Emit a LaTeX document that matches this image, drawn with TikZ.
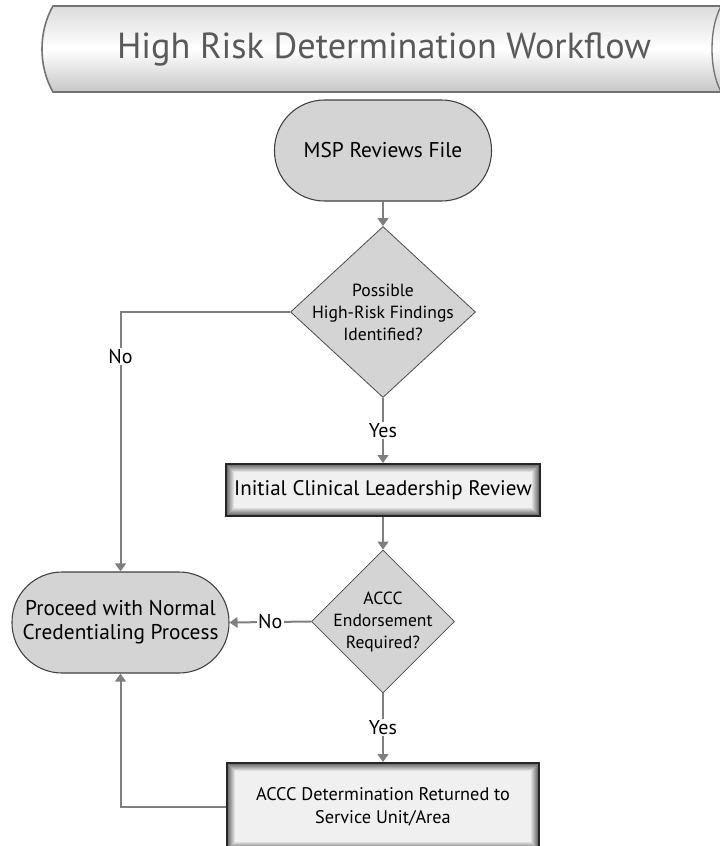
\documentclass[tikz,border=0pt]{standalone}
\usepackage{fontspec}
\setmainfont{PT Sans}
\usetikzlibrary{arrows.meta,shapes.geometric}
\definecolor{conn}{HTML}{7F7F7F}
\definecolor{nodefill}{HTML}{D4D4D4}
\definecolor{titlegray}{HTML}{5A5A5A}
\tikzset{
  conn/.style={draw=conn,line width=1.5pt},
  arr/.style={conn,-{Triangle[length=6pt,width=8pt]}},
  stadium/.style={draw=black!75,line width=0.8pt,fill=nodefill,rounded corners=37.5pt,
    minimum width=162.75pt,minimum height=75.75pt,inner sep=0pt,align=center,font=\fontsize{16}{18}\selectfont},
  decision/.style={diamond,draw=black!70,line width=0.6pt,fill=nodefill,inner sep=0pt},
  dtext/.style={align=center,font=\fontsize{13.2}{16.5}\selectfont},
  glowbox/.style={draw=black!85,line width=1.4pt,inner sep=0pt,align=center,
    path picture={
      \foreach \i [evaluate=\i as \c using 62-7*\i] in {0,...,8}{
        \fill[black!\c!white] ([shift={(\i*0.75pt,-\i*0.75pt)}]path picture bounding box.north west)
          rectangle ([shift={(-\i*0.75pt,\i*0.75pt)}]path picture bounding box.south east);}
    }},
  lbl/.style={fill=white,inner sep=1pt,font=\fontsize{15}{17}\selectfont}
}
\begin{document}
\begin{tikzpicture}[x=0.75pt,y=-0.75pt]
\clip (0,0) rectangle (720,846);
\fill[white] (0,0) rectangle (720,846);
% title banner
\path[draw=black!55,line width=1.2pt,top color=black!14,bottom color=black!22,middle color=white]
  (53,6) .. controls (45,20) and (42,35) .. (42,49) .. controls (42,63) and (45,78) .. (53,92)
  -- (730,92) -- (730,6) -- cycle;
\draw[black!55,line width=1pt] (721,6) .. controls (714,20) and (712,35) .. (712,49)
  .. controls (712,63) and (714,78) .. (721,92);
\node[text=titlegray,font=\fontsize{27.2}{30}\selectfont] (title) at (384,49) {High Risk Determination Workflow};
% nodes
\node[stadium] (msp) at (383,150.5) {MSP Reviews File};
\node[decision,minimum width=138.75pt,minimum height=128.25pt] (d1) at (383,312) {};
\node[dtext] (d1t) at (383,312) {Possible\\High-Risk Findings\\Identified?};
\node[glowbox,minimum width=235.5pt,minimum height=39pt,font=\fontsize{15.8}{18}\selectfont] (icl) at (383,490) {Initial Clinical Leadership Review};
\node[decision,minimum width=107.25pt,minimum height=107.25pt] (d2) at (383,621.5) {};
\node[dtext] (d2t) at (383,621.5) {ACCC\\Endorsement\\Required?};
\node[stadium,font=\fontsize{16}{18}\selectfont] (proc) at (120.5,622.5) {Proceed with Normal\\Credentialing Process};
\node[glowbox,minimum width=234pt,minimum height=65.25pt,font=\fontsize{13.7}{17.5}\selectfont] (acc) at (383,806.5) {ACCC Determination Returned to\\Service Unit/Area};
% connectors
\draw[arr] (msp.south) -- (d1.north);
\draw[arr] (d1.south) -- node[lbl] (yes1) {Yes} (icl.north);
\draw[arr] (icl.south) -- (d2.north);
\draw[arr] (d2.west) -- node[lbl] (no2) {No} (proc.east);
\draw[arr] (d2.south) -- node[lbl] (yes2) {Yes} (acc.north);
\coordinate (c1) at (proc.north |- d1.west);
\draw[arr] (d1.west) -- (c1) -- node[lbl,pos=0.17] (no1) {No} (proc.north);
\coordinate (c2) at (proc.south |- acc.west);
\draw[arr] (acc.west) -- (c2) -- (proc.south);
\end{tikzpicture}
\end{document}
